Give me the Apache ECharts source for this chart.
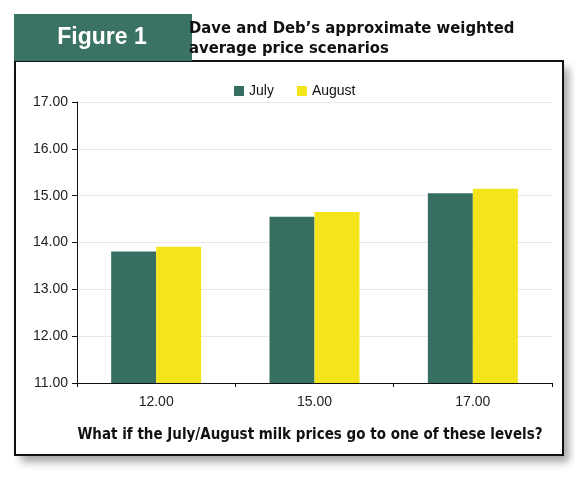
<!DOCTYPE html>
<html>
<head>
<meta charset="utf-8">
<script src="https://cdn.jsdelivr.net/npm/echarts@6/dist/echarts.min.js"></script>
<style>
  html, body { margin: 0; padding: 0; background: #fff; }
  #main { width: 575px; height: 478px; }
</style>
</head>
<body>
<div id="main"></div>
<script>
// milk price levels (x) and weighted average prices
var priceLevels = ['12.00', '15.00', '17.00'];
var julyValues = [13.81, 14.55, 15.05];
var augustValues = [13.91, 14.65, 15.15];
var seriesNames = ['July', 'August'];

var narrow = "'Liberation Sans Narrow', 'DejaVu Sans Condensed', 'Roboto Condensed', Arial, sans-serif";
var plain = "'Liberation Sans', Arial, sans-serif";
var green = '#366f61';
var yellow = '#f4e41c';

var myChart = echarts.init(document.getElementById('main'));

var option = {
    animation: false,
    backgroundColor: '#fff',
    graphic: [
        // frame shadow (fill only so it doesn't show inside)
        {
            type: 'rect', z: -10,
            shape: {x: 15, y: 61, width: 548, height: 394},
            style: {fill: '#fff',
                shadowBlur: 8, shadowOffsetX: 6, shadowOffsetY: 7, shadowColor: 'rgba(0,0,0,0.35)'}
        },
        {
            type: 'rect', z: 1,
            shape: {x: 15, y: 61, width: 548, height: 394},
            style: {fill: 'none', stroke: '#111', lineWidth: 2}
        },
        // "Figure 1" tab
        {
            type: 'rect', z: 5,
            shape: {x: 14, y: 14, width: 178, height: 47},
            style: {fill: '#3a7363'}
        },
        {
            type: 'text', z: 6, x: 102, y: 38,
            style: {text: 'Figure 1', fill: '#fff', align: 'center', verticalAlign: 'middle',
                font: 'bold 23px ' + plain}
        },
        {
            type: 'text', z: 6, left: 189, top: 19,
            style: {text: 'Dave and Deb\u2019s approximate weighted\naverage price scenarios',
                fill: '#111', lineHeight: 20, font: 'bold 16.5px ' + narrow}
        }
    ],
    legend: {
        data: seriesNames,
        left: 229, top: 79,
        itemWidth: 10, itemHeight: 10, itemGap: 23,
        icon: 'rect',
        textStyle: {fontFamily: plain, fontSize: 14, color: '#111'}
    },
    grid: {left: 77, right: 23, top: 102, bottom: 95, outerBoundsMode: 'none', containLabel: false},
    xAxis: {
        type: 'category',
        data: priceLevels,
        name: 'What if the July/August milk prices go to one of these levels?',
        nameLocation: 'middle',
        nameGap: 45,
        nameTextStyle: {fontFamily: narrow, fontWeight: 'bold', fontSize: 15, color: '#111',
            padding: [0, 9, 0, 0]},
        axisLine: {lineStyle: {color: '#111', width: 1}},
        axisTick: {show: true, length: 4, lineStyle: {color: '#111'}},
        axisLabel: {fontFamily: plain, fontSize: 14, color: '#222', margin: 12}
    },
    yAxis: {
        type: 'value',
        min: 11, max: 17, interval: 1,
        axisLine: {show: true, lineStyle: {color: '#111', width: 1}},
        axisTick: {show: true, length: 5, lineStyle: {color: '#111'}},
        axisLabel: {
            fontFamily: plain, fontSize: 14, color: '#222', margin: 9,
            formatter: function (v) { return v.toFixed(2); }
        },
        splitLine: {lineStyle: {color: '#e8e8e8', width: 1}}
    },
    series: [{
        name: seriesNames[0],
        type: 'bar',
        data: julyValues,
        barWidth: 45,
        barGap: '0%',
        itemStyle: {color: green}
    }, {
        name: seriesNames[1],
        type: 'bar',
        data: augustValues,
        barWidth: 45,
        barGap: '0%',
        itemStyle: {color: yellow}
    }]
};

myChart.setOption(option);
</script>
</body>
</html>
